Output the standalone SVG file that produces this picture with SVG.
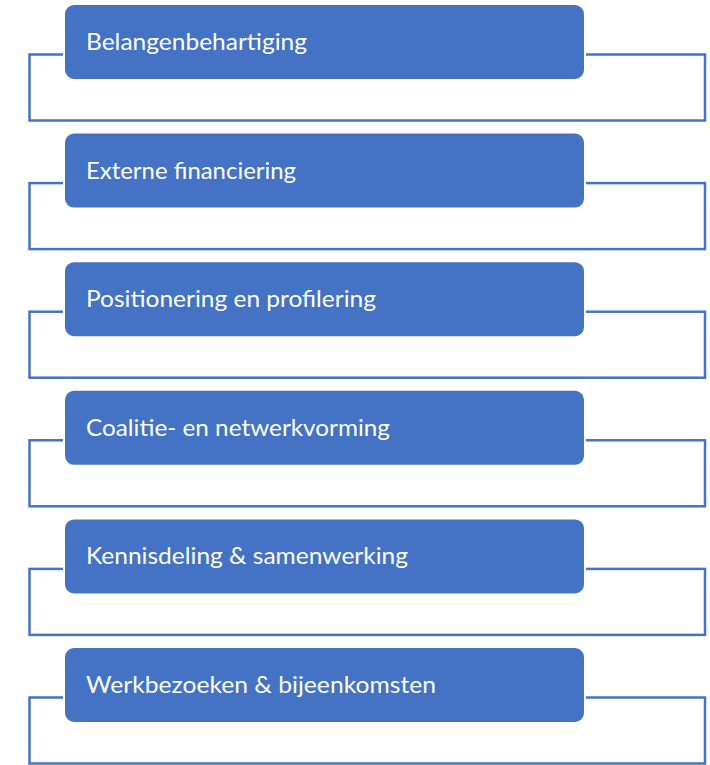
<svg xmlns="http://www.w3.org/2000/svg" width="710" height="765" viewBox="0 0 710 765">
<defs>
<style>
.frame{fill:#ffffff;stroke:#4472C4;stroke-width:2.5}
.box{fill:#4472C4;stroke:#ffffff;stroke-width:2}
.lbl{fill:#ffffff;font-family:Lato,"Open Sans","Liberation Sans",sans-serif;font-size:24px}
</style>
</defs>
<rect width="710" height="765" fill="#ffffff"/>
<g id="connectors">
<rect class="frame" x="29.5" y="54.5" width="675.5" height="66"/>
<rect class="frame" x="29.5" y="183.1" width="675.5" height="66"/>
<rect class="frame" x="29.5" y="311.7" width="675.5" height="66"/>
<rect class="frame" x="29.5" y="440.3" width="675.5" height="66"/>
<rect class="frame" x="29.5" y="568.9" width="675.5" height="66"/>
<rect class="frame" x="29.5" y="697.5" width="675.5" height="66"/>
</g>
<g id="node1">
<rect class="box" x="64" y="4" width="521" height="76" rx="10"/>
<text class="lbl" x="86" y="50" textLength="221" lengthAdjust="spacingAndGlyphs">Belangenbehartiging</text>
</g>
<g id="node2">
<rect class="box" x="64" y="132.6" width="521" height="76" rx="10"/>
<text class="lbl" x="86" y="178.6" textLength="210" lengthAdjust="spacingAndGlyphs">Externe financiering</text>
</g>
<g id="node3">
<rect class="box" x="64" y="261.2" width="521" height="76" rx="10"/>
<text class="lbl" x="86" y="307.2" textLength="290" lengthAdjust="spacingAndGlyphs">Positionering en profilering</text>
</g>
<g id="node4">
<rect class="box" x="64" y="389.8" width="521" height="76" rx="10"/>
<text class="lbl" x="86" y="435.8" textLength="304" lengthAdjust="spacingAndGlyphs">Coalitie- en netwerkvorming</text>
</g>
<g id="node5">
<rect class="box" x="64" y="518.4" width="521" height="76" rx="10"/>
<text class="lbl" x="86" y="564.4" textLength="322" lengthAdjust="spacingAndGlyphs">Kennisdeling &amp; samenwerking</text>
</g>
<g id="node6">
<rect class="box" x="64" y="647" width="521" height="76" rx="10"/>
<text class="lbl" x="86" y="693" textLength="350" lengthAdjust="spacingAndGlyphs">Werkbezoeken &amp; bijeenkomsten</text>
</g>
</svg>
